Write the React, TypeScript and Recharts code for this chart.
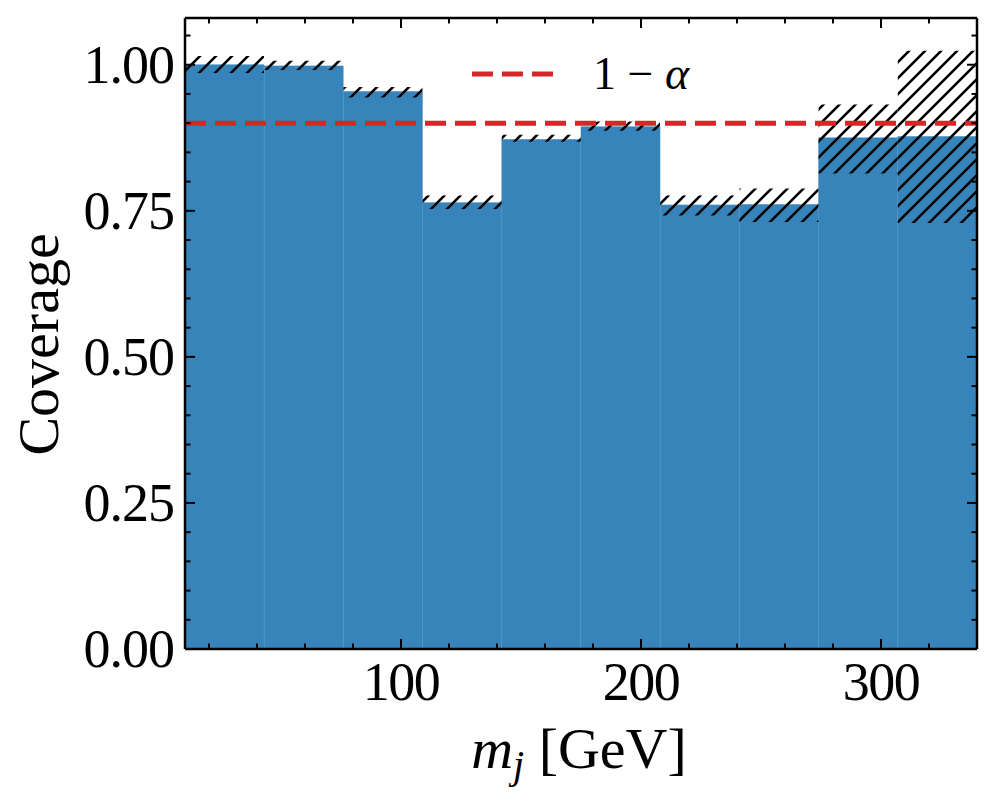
import React from "react";
import { ComposedChart, Bar, XAxis, YAxis, ReferenceLine, Label } from "recharts";

// bins of m_j: 10 bins, 33 GeV wide, from 10 to 340
const binCenters = [26.5, 59.5, 92.5, 125.5, 158.5, 191.5, 224.5, 257.5, 290.5, 323.5];
const coverage = [1.0, 0.998, 0.954, 0.764, 0.872, 0.894, 0.76, 0.761, 0.875, 0.877];
const bandLow = [0.986, 0.991, 0.944, 0.753, 0.868, 0.887, 0.742, 0.731, 0.814, 0.729];
const bandHigh = [1.015, 1.007, 0.962, 0.776, 0.88, 0.903, 0.776, 0.788, 0.932, 1.024];
const targetLevel = 0.9;

const xMajor = [100, 200, 300];
const xMinor = [20, 40, 60, 80, 120, 140, 160, 180, 220, 240, 260, 280, 320];
const yMajor = [0, 0.25, 0.5, 0.75, 1.0];
const yMinor = [0.05, 0.1, 0.15, 0.2, 0.3, 0.35, 0.4, 0.45, 0.55, 0.6, 0.65, 0.7, 0.8, 0.85, 0.9, 0.95, 1.05];

const data = binCenters.map((x, i) => ({
  x,
  coverage: coverage[i],
  band: [bandLow[i], bandHigh[i]],
}));

const xTicks = [...xMinor, ...xMajor].sort((a, b) => a - b);
const yTicks = [...yMinor, ...yMajor].sort((a, b) => a - b);

const FONT = "'Liberation Serif', 'DejaVu Serif', serif";
const MAJOR = 10;
const MINOR = 5.5;
const axisStyle = { stroke: "#000", strokeWidth: 2.5 };

const BottomTick = (props: any) => {
  const { x, y, payload } = props;
  const major = xMajor.includes(payload.value);
  return (
    <g>
      <line x1={x} y1={y} x2={x} y2={y - (major ? MAJOR : MINOR)} stroke="#000" strokeWidth={2} />
      {major && (
        <text x={x} y={y + 51} textAnchor="middle" fontSize={54} fontFamily={FONT} letterSpacing={-1.5} fill="#000">
          {payload.value}
        </text>
      )}
    </g>
  );
};

// top axis is 1px tall; its tick y sits at the bottom of that strip (plot top)
const TopTick = (props: any) => {
  const { x, y, payload } = props;
  const major = xMajor.includes(payload.value);
  return <line x1={x} y1={y} x2={x} y2={y + (major ? MAJOR : MINOR)} stroke="#000" strokeWidth={2} />;
};

const LeftTick = (props: any) => {
  const { x, y, payload } = props;
  const major = yMajor.includes(payload.value);
  return (
    <g>
      <line x1={x} y1={y} x2={x + (major ? MAJOR : MINOR)} y2={y} stroke="#000" strokeWidth={2} />
      {major && (
        <text x={x - 11} y={y + 18} textAnchor="end" fontSize={54} fontFamily={FONT} letterSpacing={-1} fill="#000">
          {payload.value.toFixed(2)}
        </text>
      )}
    </g>
  );
};

const RightTick = (props: any) => {
  const { x, y, payload } = props;
  const major = yMajor.includes(payload.value);
  return <line x1={x} y1={y} x2={x - (major ? MAJOR : MINOR)} y2={y} stroke="#000" strokeWidth={2} />;
};

const XTitle = (props: any) => {
  const vb = props.viewBox;
  return (
    <text x={vb.x + vb.width / 2 - 2} y={vb.y + 119} textAnchor="middle" fontSize={58} fontFamily={FONT} fill="#000">
      <tspan fontStyle="italic">m</tspan>
      <tspan fontStyle="italic" fontSize={40} dy={10}>j</tspan>
      <tspan dy={-10}>{"  [GeV]"}</tspan>
    </text>
  );
};

const YTitle = (props: any) => {
  const vb = props.viewBox;
  const cx = vb.x + 58;
  const cy = vb.y + vb.height / 2 + 11;
  return (
    <text x={cx} y={cy} transform={`rotate(-90 ${cx} ${cy})`} textAnchor="middle" fontSize={58} fontFamily={FONT} fill="#000">
      Coverage
    </text>
  );
};

export default function App() {
  return (
    <div style={{ position: "absolute", left: 0, top: 0, width: 998, height: 801, background: "#fff" }}>
      <ComposedChart
        width={998}
        height={801}
        data={data}
        margin={{ top: 17, right: 20, bottom: 0, left: 0 }}
        barCategoryGap={0}
        barGap={0}
      >
        <defs>
          <pattern id="hatch" patternUnits="userSpaceOnUse" width="16" height="16">
            <path d="M-4,4 L4,-4 M0,16 L16,0 M12,20 L20,12" stroke="#000" strokeWidth={2.6} />
          </pattern>
        </defs>
        <XAxis
          xAxisId="bottom"
          dataKey="x"
          type="number"
          domain={[10, 340]}
          allowDataOverflow
          ticks={xTicks}
          interval={0}
          tickSize={0}
          tickMargin={0}
          tickLine={false}
          tick={<BottomTick />}
          axisLine={axisStyle}
          height={152}
        >
          <Label content={XTitle} />
        </XAxis>
        <XAxis
          xAxisId="top"
          orientation="top"
          dataKey="x"
          type="number"
          domain={[10, 340]}
          allowDataOverflow
          ticks={xTicks}
          interval={0}
          tickSize={0}
          tickMargin={0}
          tickLine={false}
          tick={<TopTick />}
          axisLine={axisStyle}
          height={1}
        />
        <YAxis
          yAxisId="left"
          type="number"
          domain={[0, 1.08]}
          allowDataOverflow
          ticks={yTicks}
          interval={0}
          tickSize={0}
          tickMargin={0}
          tickLine={false}
          tick={<LeftTick />}
          axisLine={axisStyle}
          width={185}
        >
          <Label content={YTitle} />
        </YAxis>
        <YAxis
          yAxisId="right"
          orientation="right"
          type="number"
          domain={[0, 1.08]}
          allowDataOverflow
          ticks={yTicks}
          interval={0}
          tickSize={0}
          tickMargin={0}
          tickLine={false}
          tick={<RightTick />}
          axisLine={axisStyle}
          width={1}
        />
        <Bar
          xAxisId="bottom"
          yAxisId="left"
          dataKey="coverage"
          fill="#3784bb"
          stroke="#448dc3"
          strokeWidth={0.6}
          isAnimationActive={false}
        />
        <Bar xAxisId="top" yAxisId="left" dataKey="band" fill="url(#hatch)" isAnimationActive={false} />
        <ReferenceLine
          xAxisId="bottom"
          yAxisId="left"
          y={targetLevel}
          stroke="#d62728"
          strokeWidth={5}
          strokeDasharray="21 9"
        />
      </ComposedChart>
      <svg width={998} height={801} style={{ position: "absolute", left: 0, top: 0, pointerEvents: "none" }}>
        <line x1={472} y1={74} x2={555} y2={74} stroke="#d62728" strokeWidth={5} strokeDasharray="21 9" />
        <text x={593} y={89} fontSize={46} fontFamily={FONT} fill="#000">
          {"1 \u2212 "}
          <tspan fontStyle="italic">{"\u03b1"}</tspan>
        </text>
      </svg>
    </div>
  );
}
